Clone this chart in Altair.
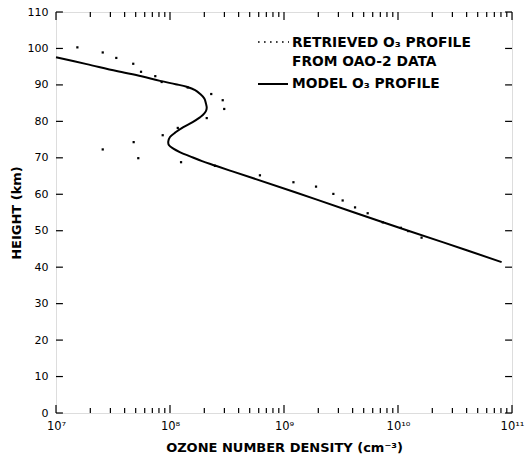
import math
import altair as alt
import pandas as pd

# Retrieved O3 profile from OAO-2 data (number density cm^-3, height km)
ret_density = [1.54e7, 2.57e7, 3.38e7, 4.76e7, 5.57e7, 7.43e7, 8.45e7, 1.43e8, 2.30e8, 2.90e8,
               2.99e8, 2.10e8, 1.17e8, 8.63e7, 4.80e7, 2.57e7, 5.27e7, 1.25e8, 2.48e8, 6.15e8,
               1.21e9, 1.91e9, 2.71e9, 3.27e9, 4.20e9, 5.42e9, 7.35e9, 1.06e10, 1.23e10, 1.61e10]
ret_height = [100.3, 98.9, 97.4, 95.8, 93.6, 92.4, 90.8, 89.3, 87.5, 85.8,
              83.4, 80.9, 78.2, 76.2, 74.3, 72.3, 69.9, 68.8, 67.8, 65.2,
              63.3, 62.1, 60.1, 58.3, 56.4, 54.8, 52.3, 50.8, 49.9, 48.1]

# Model O3 profile
model_density = [1.0e7, 1.86e7, 3.40e7, 5.62e7, 8.17e7, 1.12e8, 1.40e8, 1.66e8, 1.83e8, 2.00e8,
                 2.07e8, 2.10e8, 2.07e8, 1.95e8, 1.83e8, 1.58e8, 1.31e8, 1.12e8, 1.0e8, 9.66e7,
                 9.77e7, 1.07e8, 1.23e8, 1.50e8, 1.91e8, 2.48e8, 3.36e8, 5.38e8, 2.0e9, 6.95e9,
                 2.5e10, 8.11e10]
model_height = [97.6, 95.7, 93.8, 92.4, 91.1, 90.2, 89.5, 88.6, 87.6, 86.3,
                84.8, 83.8, 82.9, 81.8, 81.1, 79.8, 78.4, 77.0, 75.7, 74.5,
                73.5, 72.5, 71.5, 70.4, 69.1, 67.9, 66.5, 64.4, 58.4, 52.6,
                46.8, 41.4]

x_tick_values = [1e7, 1e8, 1e9, 1e10, 1e11]
x_tick_labels = ["10⁷", "10⁸", "10⁹", "10¹⁰", "10¹¹"]
y_tick_values = [0, 10, 20, 30, 40, 50, 60, 70, 80, 90, 100, 110]
legend_labels = ["RETRIEVED O₃ PROFILE", "FROM OAO-2 DATA", "MODEL O₃ PROFILE"]
x_title = "OZONE NUMBER DENSITY (cm⁻³)"
y_title = "HEIGHT (km)"

FONT = "DejaVu Sans"
XDOM = [1e7, 1e11]
YDOM = [0, 110]

ret_df = pd.DataFrame({"density": ret_density, "height": ret_height})
model_df = pd.DataFrame({"density": model_density, "height": model_height,
                         "i": list(range(len(model_density)))})

# minor/major tick positions on the log axis
xt = []
for d in range(7, 11):
    for m in range(1, 10):
        xt.append((m * 10.0 ** d, m == 1))
xt.append((1e11, True))
major_len, minor_len = 2.2, 1.4  # km
xtick_df = pd.DataFrame({
    "x": [v for v, _ in xt],
    "b0": [0.0 for _ in xt],
    "b1": [major_len if mj else minor_len for _, mj in xt],
    "t0": [110.0 for _ in xt],
    "t1": [110 - (major_len if mj else minor_len) for _, mj in xt],
})
yfac = 1.15
ytick_df = pd.DataFrame({
    "y": y_tick_values,
    "l0": [1e7] * len(y_tick_values),
    "l1": [1e7 * yfac] * len(y_tick_values),
    "r0": [1e11] * len(y_tick_values),
    "r1": [1e11 / yfac] * len(y_tick_values),
})

label_expr = " : ".join(
    f"abs(log(datum.value)/LN10 - {round(math.log10(v))}) < 0.01 ? '{lab}'"
    for v, lab in zip(x_tick_values, x_tick_labels)
) + " : ''"

xscale = alt.Scale(type="log", domain=XDOM, nice=False)
yscale = alt.Scale(domain=YDOM, nice=False, zero=False)

xaxis = alt.Axis(values=x_tick_values, labelExpr=label_expr, ticks=False, domain=False, grid=False,
                 labelFont=FONT, labelFontSize=11.5, labelColor="black", labelPadding=7,
                 labelOverlap=False,
                 title=x_title, titleFont=FONT, titleFontSize=13, titleFontWeight="bold",
                 titleColor="black", titlePadding=10, labelFlush=False)
yaxis = alt.Axis(values=y_tick_values, ticks=False, domain=False, grid=False,
                 labelFont=FONT, labelFontSize=11, labelColor="black", labelPadding=8,
                 labelOverlap=False,
                 title=y_title, titleFont=FONT, titleFontSize=13, titleFontWeight="bold",
                 titleColor="black", titlePadding=4, labelFlush=False)

points = alt.Chart(ret_df).mark_square(size=5, color="black", opacity=1).encode(
    x=alt.X("density:Q", scale=xscale, axis=xaxis),
    y=alt.Y("height:Q", scale=yscale, axis=yaxis))

line = alt.Chart(model_df).mark_line(color="black", strokeWidth=2, interpolate="catmull-rom").encode(
    x=alt.X("density:Q", scale=xscale, axis=xaxis),
    y=alt.Y("height:Q", scale=yscale, axis=yaxis),
    order="i:Q")

def rule_layer(df, xf, yf, x2=None, y2=None):
    enc = dict(x=alt.X(xf, scale=xscale, axis=xaxis), y=alt.Y(yf, scale=yscale, axis=yaxis))
    if x2:
        enc["x2"] = x2
    if y2:
        enc["y2"] = y2
    return alt.Chart(df).mark_rule(color="black", strokeWidth=1.2).encode(**enc)

bottom_ticks = rule_layer(xtick_df, "x:Q", "b0:Q", y2="b1:Q")
top_ticks = rule_layer(xtick_df, "x:Q", "t0:Q", y2="t1:Q")
left_ticks = rule_layer(ytick_df, "l0:Q", "y:Q", x2="l1:Q")
right_ticks = rule_layer(ytick_df, "r0:Q", "y:Q", x2="r1:Q")

def legend_text(label, ypix):
    return alt.Chart(pd.DataFrame({"t": [label]})).mark_text(
        align="left", baseline="alphabetic", font=FONT, fontSize=13.8, fontWeight="bold",
        color="black"
    ).encode(text="t:N", x=alt.value(236), y=alt.value(ypix))

leg1 = legend_text(legend_labels[0], 35)
leg2 = legend_text(legend_labels[1], 54)
leg3 = legend_text(legend_labels[2], 76)
leg_dots = alt.Chart(pd.DataFrame({"a": [0]})).mark_rule(
    color="black", strokeWidth=1.6, strokeDash=[1.6, 4.4]
).encode(x=alt.value(202), x2=alt.value(233), y=alt.value(30))
leg_line = alt.Chart(pd.DataFrame({"a": [0]})).mark_rule(
    color="black", strokeWidth=2
).encode(x=alt.value(202), x2=alt.value(232), y=alt.value(72))

chart = alt.layer(
    points, line, bottom_ticks, top_ticks, left_ticks, right_ticks,
    leg_dots, leg_line, leg1, leg2, leg3
).properties(
    width=456, height=401,
    padding={"left": 56, "top": 12, "right": 18, "bottom": 54},
    autosize=alt.AutoSizeParams(type="none"),
).configure_view(stroke="black", strokeWidth=1.5).configure(background="white")

chart.save("out.html", embed_options={"renderer": "svg", "actions": False})
